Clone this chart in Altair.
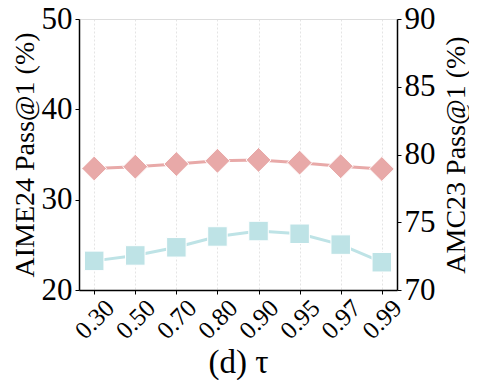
import altair as alt
import pandas as pd

taus = ["0.30", "0.50", "0.70", "0.80", "0.90", "0.95", "0.97", "0.99"]
aime24 = [33.45, 33.65, 33.95, 34.3, 34.4, 34.1, 33.7, 33.4]
amc23 = [72.15, 72.55, 73.15, 73.95, 74.35, 74.15, 73.35, 72.05]

df_a = pd.DataFrame({"tau": taus, "value": aime24})
df_b = pd.DataFrame({"tau": taus, "value": amc23})

PINK = "#E8A9A8"
BLUE = "#BEE3E6"
FONT = "Liberation Serif, Times New Roman, DejaVu Serif, serif"

xenc = alt.X(
    "tau:O",
    sort=taus,
    scale=alt.Scale(type="point", padding=0.37),
    axis=alt.Axis(
        title="(d) τ",
        titleFontSize=33,
        titleFont=FONT,
        titleFontWeight="normal",
        titleColor="black",
        titleBaseline="alphabetic",
        titleY=82,
        labelAngle=315,
        labelAlign="center",
        labelBaseline="middle",
        labelFontSize=25,
        labelFont=FONT,
        labelColor="black",
        labelPadding=25,
        tickSize=4,
        tickColor="black",
        domainColor="black",
        domainWidth=1.5,
        grid=True,
        gridColor="#dddddd",
        gridDash=[2, 2],
        gridWidth=0.8,
    ),
)

left = alt.Chart(df_a).encode(
    x=xenc,
    y=alt.Y(
        "value:Q",
        scale=alt.Scale(domain=[20, 50], nice=False, zero=False),
        axis=alt.Axis(
            orient="left",
            title="AIME24 Pass@1 (%)",
            values=[20, 30, 40, 50],
            titleFontSize=28,
            titleFont=FONT,
            titleFontWeight="normal",
            titleColor="black",
            titleAngle=270,
            titleBaseline="alphabetic",
            titleX=-46,
            labelFontSize=31,
            labelFont=FONT,
            labelColor="black",
            labelPadding=3,
            tickSize=4,
            tickColor="black",
            domainColor="black",
            domainWidth=1.5,
            grid=False,
        ),
    ),
)
left_line = left.mark_line(color=PINK, strokeWidth=3)
left_pts = left.mark_point(shape="diamond", filled=True, size=620, color=PINK, opacity=1, stroke="white", strokeWidth=1)

right = alt.Chart(df_b).encode(
    x=xenc,
    y=alt.Y(
        "value:Q",
        scale=alt.Scale(domain=[70, 90], nice=False, zero=False),
        axis=alt.Axis(
            orient="right",
            title="AMC23 Pass@1 (%)",
            values=[70, 75, 80, 85, 90],
            titleFontSize=28,
            titleFont=FONT,
            titleFontWeight="normal",
            titleColor="black",
            titleAngle=270,
            titleBaseline="alphabetic",
            titleX=67,
            labelFontSize=31,
            labelFont=FONT,
            labelColor="black",
            labelPadding=3,
            tickSize=4,
            tickColor="black",
            domainColor="black",
            domainWidth=1.5,
            grid=False,
        ),
    ),
)
right_line = right.mark_line(color=BLUE, strokeWidth=3)
right_pts = right.mark_point(shape="square", filled=True, size=380, color=BLUE, opacity=1, stroke="white", strokeWidth=1)

chart = (
    alt.layer(alt.layer(left_line, left_pts), alt.layer(right_line, right_pts))
    .resolve_scale(y="independent")
    .properties(
        width=318,
        height=271,
        autosize=alt.AutoSizeParams(type="none"),
        padding={"left": 71, "top": 11, "right": 72, "bottom": 90},
    )
    .configure_view(stroke=None)
    .configure(background="white", font=FONT)
)

chart.save("out.html", embed_options={"renderer": "svg", "actions": False})
